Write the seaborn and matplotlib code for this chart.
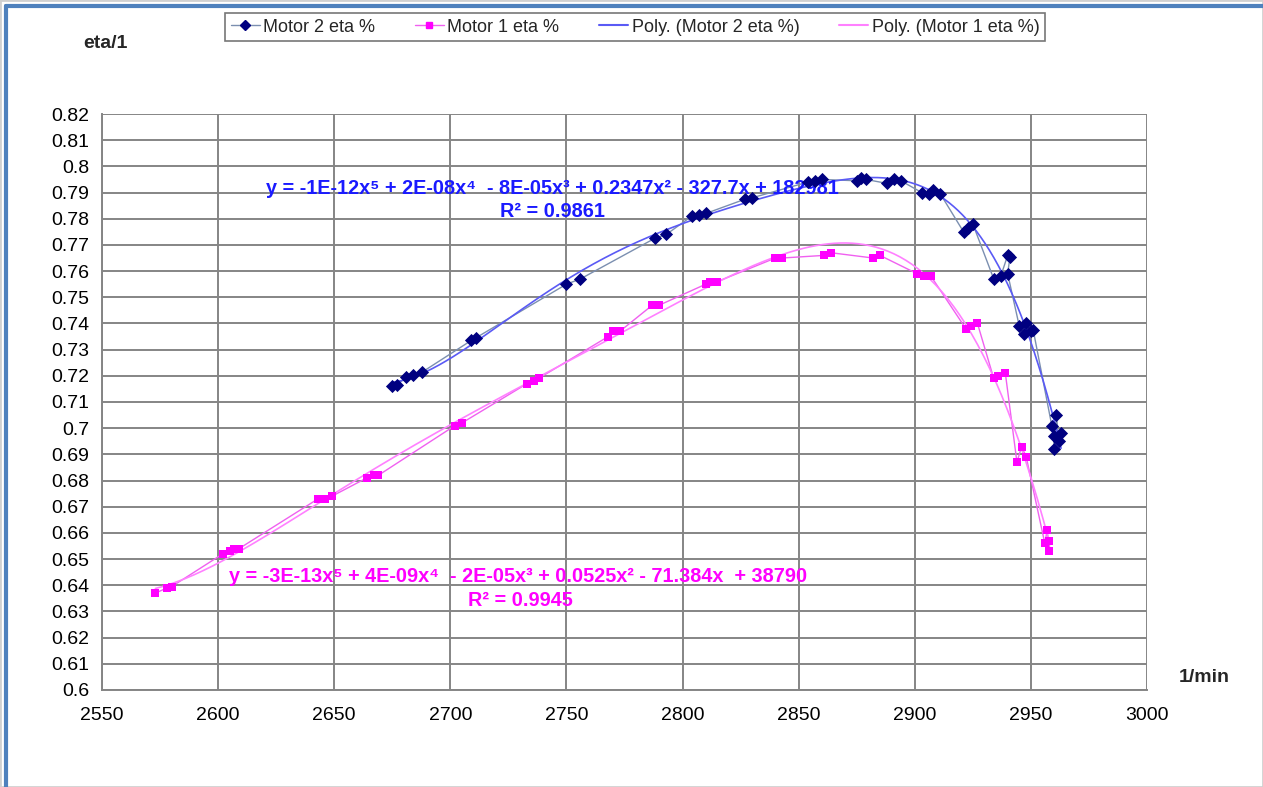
import numpy as np
import pandas as pd
import matplotlib
matplotlib.use("Agg")
import matplotlib.pyplot as plt
from matplotlib.patches import Rectangle
from matplotlib.lines import Line2D
import seaborn as sns

# Motor 2: speed [1/min] and efficiency
motor2_rpm = [2675, 2677, 2681, 2684, 2688, 2709, 2711, 2750, 2756, 2788, 2793,
              2804, 2807, 2810, 2827, 2830, 2854, 2857, 2860, 2875, 2877, 2879,
              2888, 2891, 2894, 2903, 2906, 2908, 2911, 2921, 2923, 2925,
              2934, 2937, 2940, 2941, 2940, 2945, 2947, 2948, 2950, 2951,
              2959, 2960, 2960, 2961, 2962, 2963]
motor2_eta = [0.716, 0.7165, 0.7195, 0.7205, 0.7215, 0.7335, 0.7345, 0.755, 0.757,
              0.7725, 0.774, 0.781, 0.7815, 0.782, 0.7875, 0.788, 0.794, 0.7945,
              0.795, 0.7945, 0.7955, 0.795, 0.7935, 0.795, 0.7945, 0.790, 0.7895,
              0.791, 0.7895, 0.775, 0.7765, 0.778, 0.757, 0.758, 0.766, 0.7655,
              0.759, 0.739, 0.736, 0.740, 0.737, 0.7375, 0.701, 0.697, 0.692,
              0.705, 0.695, 0.698]

# Motor 1: speed [1/min] and efficiency
motor1_rpm = [2573, 2578, 2580, 2602, 2605, 2607, 2609, 2643, 2646, 2649, 2664,
              2667, 2669, 2702, 2705, 2733, 2736, 2738, 2768, 2770, 2773, 2787,
              2790, 2810, 2812, 2815, 2840, 2843, 2861, 2864, 2882, 2885, 2901,
              2904, 2907, 2922, 2924, 2927, 2934, 2936, 2939, 2944, 2946, 2948,
              2956, 2957, 2958, 2958]
motor1_eta = [0.637, 0.639, 0.6395, 0.652, 0.653, 0.654, 0.654, 0.673, 0.673, 0.674,
              0.681, 0.682, 0.682, 0.701, 0.702, 0.717, 0.718, 0.719, 0.735, 0.737,
              0.737, 0.747, 0.747, 0.755, 0.756, 0.756, 0.765, 0.765, 0.766, 0.767,
              0.765, 0.766, 0.759, 0.758, 0.758, 0.738, 0.739, 0.740, 0.719, 0.720,
              0.721, 0.687, 0.693, 0.689, 0.656, 0.661, 0.653, 0.657]

x_ticks = np.arange(2550, 3001, 50)
y_ticks = np.round(np.arange(0.60, 0.8201, 0.01), 2)

eq_motor2 = "y = -1E-12x⁵ + 2E-08x⁴  - 8E-05x³ + 0.2347x² - 327.7x + 182981"
r2_motor2 = "R² = 0.9861"
eq_motor1 = "y = -3E-13x⁵ + 4E-09x⁴  - 2E-05x³ + 0.0525x² - 71.384x  + 38790"
r2_motor1 = "R² = 0.9945"

sns.set_style("white")
plt.rcParams["font.family"] = ["Liberation Sans", "DejaVu Sans"]

df2 = pd.DataFrame({"rpm": motor2_rpm, "eta": motor2_eta})
df1 = pd.DataFrame({"rpm": motor1_rpm, "eta": motor1_eta})

NAVY = "#000080"
MAGENTA = "#ff00ff"
POLY2 = "#5a5af5"
POLY1 = "#ff80ff"

fig = plt.figure(figsize=(12.63, 7.87), dpi=100)
ax = fig.add_axes([102 / 1263, 1 - 690 / 787, 1045 / 1263, 576 / 787])

# grid behind everything
ax.set_axisbelow(True)
ax.grid(True, color="#858585", linewidth=1.4)

# connecting series lines
sns.lineplot(data=df2, x="rpm", y="eta", sort=False, estimator=None, ax=ax,
             color="#7b8fb0", linewidth=1.0, zorder=2)
sns.lineplot(data=df1, x="rpm", y="eta", sort=False, estimator=None, ax=ax,
             color="#f060f0", linewidth=1.0, zorder=2)

# 5th-order polynomial trend lines
for df, col in ((df2, POLY2), (df1, POLY1)):
    coef = np.polyfit(df["rpm"] - 2800, df["eta"], 5)
    xs = np.linspace(df["rpm"].min(), df["rpm"].max(), 300)
    fit = pd.DataFrame({"rpm": xs, "eta": np.polyval(coef, xs - 2800)})
    sns.lineplot(data=fit, x="rpm", y="eta", ax=ax, color=col, linewidth=1.2,
                 zorder=3)

# measured points
sns.scatterplot(data=df2, x="rpm", y="eta", ax=ax, marker="D", s=45,
                color=NAVY, edgecolor=NAVY, linewidth=0, zorder=4)
sns.scatterplot(data=df1, x="rpm", y="eta", ax=ax, marker="s", s=32,
                color=MAGENTA, edgecolor=MAGENTA, linewidth=0, zorder=4)

ax.set_xlim(2550, 3000)
ax.set_ylim(0.6, 0.82)
ax.set_xticks(x_ticks)
ax.set_yticks(y_ticks)
ax.set_xticklabels([str(v) for v in x_ticks], fontsize=14)
ax.set_yticklabels([f"{v:g}" for v in y_ticks], fontsize=14)
ax.tick_params(axis="both", direction="out", length=6, width=1.2,
               color="#858585", pad=3, labelcolor="black")
ax.tick_params(axis="x", pad=6)
ax.set_xlabel("")
ax.set_ylabel("")
for side in ("top", "right"):
    ax.spines[side].set_visible(False)
for side in ("left", "bottom"):
    ax.spines[side].set_color("#858585")
    ax.spines[side].set_linewidth(1.4)

# axis titles
fig.text(105 / 1263, 1 - 43 / 787, "eta/1", fontsize=14, fontweight="bold",
         ha="center", va="center")
fig.text(1204 / 1263, 1 - 677 / 787, "1/min", fontsize=14, fontweight="bold",
         ha="center", va="center")

# trend line equations
ax.text(2744, 0.7914, eq_motor2, color="#1a1aff", fontsize=14.3,
        fontweight="bold", ha="center", va="center")
ax.text(2744, 0.7826, r2_motor2, color="#1a1aff", fontsize=14.3,
        fontweight="bold", ha="center", va="center")
ax.text(2729, 0.6432, eq_motor1, color=MAGENTA, fontsize=14.3,
        fontweight="bold", ha="center", va="center")
ax.text(2730, 0.6343, r2_motor1, color=MAGENTA, fontsize=14.3,
        fontweight="bold", ha="center", va="center")

# legend
handles = [
    Line2D([], [], color="#7b8fb0", lw=1.0, marker="D", markersize=5,
           markerfacecolor=NAVY, markeredgecolor=NAVY),
    Line2D([], [], color="#f060f0", lw=1.0, marker="s", markersize=4.5,
           markerfacecolor=MAGENTA, markeredgecolor=MAGENTA),
    Line2D([], [], color=POLY2, lw=1.5),
    Line2D([], [], color=POLY1, lw=1.5),
]
labels = ["Motor 2 eta %", "Motor 1 eta %", "Poly. (Motor 2 eta %)",
          "Poly. (Motor 1 eta %)"]
leg = fig.legend(handles, labels, loc="center", ncol=4,
                 bbox_to_anchor=(635 / 1263, 1 - 27 / 787),
                 frameon=True, fancybox=False, shadow=False,
                 prop={"family": ["Liberation Sans Narrow", "Liberation Sans"],
                       "size": 13},
                 handlelength=1.6, handletextpad=0.2, columnspacing=2.2,
                 borderpad=0.3)
leg.get_frame().set_edgecolor("#555555")
leg.get_frame().set_linewidth(1.2)

# chart frame
fig.add_artist(Rectangle((0, 0), 1, 1, transform=fig.transFigure, fill=False,
                         edgecolor="#d0d0d0", linewidth=2))
fig.add_artist(Line2D([6 / 1263, 6 / 1263], [0, 1 - 6 / 787],
                      transform=fig.transFigure, color="#4f81bd", lw=3))
fig.add_artist(Line2D([6 / 1263, 1], [1 - 6 / 787, 1 - 6 / 787],
                      transform=fig.transFigure, color="#4f81bd", lw=3))

fig.savefig("out.png", dpi=100)
